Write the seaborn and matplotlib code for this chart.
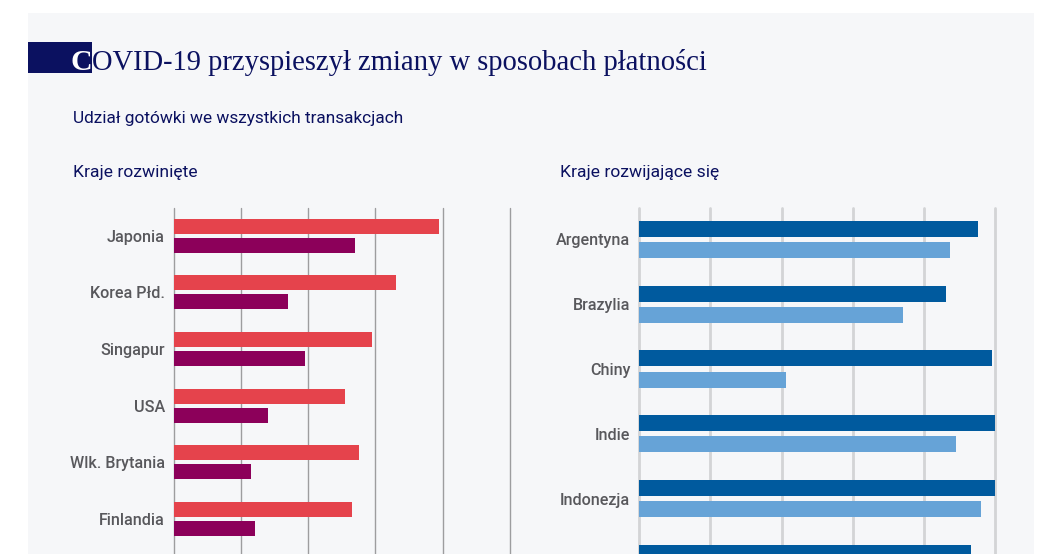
import matplotlib
matplotlib.use("Agg")
import matplotlib.pyplot as plt
import seaborn as sns
import pandas as pd
import numpy as np
from matplotlib.patches import Rectangle
from matplotlib.text import Annotation

# ---------------- data (% of transactions) ----------------
dev_countries = ["Japonia", "Korea Płd.", "Singapur", "USA", "Wlk. Brytania", "Finlandia"]
dev_before = [78.8, 66.0, 59.1, 51.0, 55.1, 53.0]   # red bars
dev_after = [54.0, 34.0, 39.1, 28.1, 23.0, 24.1]    # purple bars

emg_countries = ["Argentyna", "Brazylia", "Chiny", "Indie", "Indonezja", ""]
emg_before = [95.1, 86.3, 99.2, 100.0, 100.0, 93.2]   # dark blue bars
emg_after = [87.3, 74.2, 41.2, 89.1, 96.1, np.nan]   # light blue bars

series_names = ["przed", "po"]
x_ticks = [0, 20, 40, 60, 80, 100]

# ---------------- styling ----------------
BG_PANEL = "#f6f7f9"
NAVY = "#0b1160"
LABEL_GRAY = "#58585c"
RED = "#e5434c"
PURPLE = "#8c005a"
DBLUE = "#005a9e"
LBLUE = "#66a3d7"

sns.set_style("white")
plt.rcParams["font.family"] = ["Roboto", "DejaVu Sans"]

W, H = 1052, 554
fig = plt.figure(figsize=(W / 100, H / 100), dpi=100)
fig.patch.set_facecolor("white")

# light panel background
fig.add_artist(Rectangle((28 / W, 0), (1034 - 28) / W, 1 - 13 / H,
                         transform=fig.transFigure, facecolor=BG_PANEL,
                         edgecolor="none", zorder=-5))
# navy block behind "C"
fig.add_artist(Rectangle((28 / W, 1 - 72.7 / H), (91.5 - 28) / W, 30.4 / H,
                         transform=fig.transFigure, facecolor=NAVY,
                         edgecolor="none", zorder=-4))

SERIF = ["Liberation Serif", "DejaVu Serif"]
c_txt = fig.text(70.5 / W, 1 - 69.5 / H, "C", color="white", fontsize=21.5,
                 family=SERIF, fontweight="bold", va="baseline", ha="left", zorder=3)
ann = Annotation("OVID-19 przyspieszył zmiany w sposobach płatności",
                 xy=(1, 0), xycoords=c_txt, xytext=(0, 0), textcoords="offset points",
                 color=NAVY, fontsize=20.6, family=SERIF, va="bottom", ha="left",
                 annotation_clip=False)
fig.add_artist(ann)

fig.text(73 / W, 1 - 118 / H, "Udział gotówki we wszystkich transakcjach", color=NAVY,
         fontsize=12.4, va="center", ha="left")
fig.text(73 / W, 1 - 172 / H, "Kraje rozwinięte", color=NAVY, fontsize=12.6,
         va="center", ha="left")
fig.text(560 / W, 1 - 172 / H, "Kraje rozwijające się", color=NAVY, fontsize=12.6,
         va="center", ha="left")

top_px = 208.3
height_px = 453.6


def make_axes(left_px, right_px):
    return fig.add_axes([left_px / W, 1 - (top_px + height_px) / H,
                         (right_px - left_px) / W, height_px / H])


def long_df(countries, before, after):
    rows = []
    for c, b, a in zip(countries, before, after):
        rows.append({"kraj": c, "okres": series_names[0], "udzial": b})
        rows.append({"kraj": c, "okres": series_names[1], "udzial": a})
    return pd.DataFrame(rows).dropna()


def draw_panel(ax, countries, before, after, colors, nrows, width, gap,
               grid_color, grid_lw):
    df = long_df(countries, before, after)
    sns.barplot(data=df, y="kraj", x="udzial", hue="okres", order=countries,
                hue_order=series_names, palette=colors, orient="h", saturation=1,
                width=width, gap=gap, dodge=True, linewidth=0,
                legend=False, ax=ax, zorder=3)
    ax.set_facecolor("none")
    ax.set_xlim(x_ticks[0], x_ticks[-1])
    ax.set_ylim(nrows - 0.48, -0.48)
    ax.set_xticks(x_ticks)
    ax.set_xticklabels([])
    ax.tick_params(axis="both", length=0)
    ax.set_yticks(range(len(countries)))
    ax.set_yticklabels(countries, color=LABEL_GRAY, fontsize=11.6, fontweight="medium")
    ax.tick_params(axis="y", pad=6.5)
    ax.set_xlabel("")
    ax.set_ylabel("")
    ax.grid(False)
    for s in ax.spines.values():
        s.set_visible(False)
    for xv in x_ticks:
        ax.axvline(xv, color=grid_color, lw=grid_lw, zorder=1, clip_on=False)


ax1 = make_axes(174, 509.7)
draw_panel(ax1, dev_countries, dev_before, dev_after, [RED, PURPLE], 8,
           0.67, 0.21, "#9d9d9f", 1.0)

ax2 = make_axes(639.3, 995)
draw_panel(ax2, emg_countries, emg_before, emg_after, [DBLUE, LBLUE], 7,
           0.65, 0.24, "#d3d4d6", 2.0)

fig.savefig("out.png", dpi=100, facecolor=fig.get_facecolor())
